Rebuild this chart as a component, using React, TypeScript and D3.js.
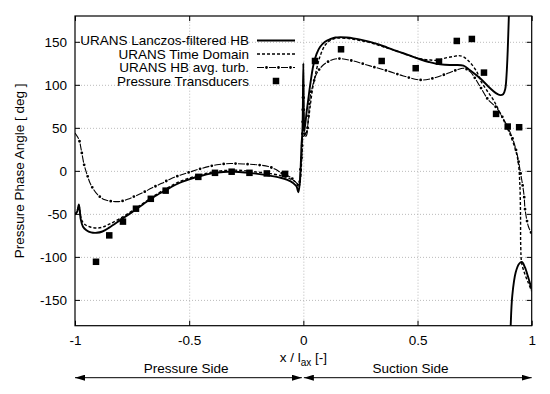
import { useRef, useEffect } from 'react';
import * as d3 from 'd3';

type Pt = [number, number];

// URANS Lanczos-filtered HB (NaN = wrap from +180 to -180)
const lanczosHB: Pt[] = [
  [-1, -51], [-0.99, -47], [-0.983, -39], [-0.975, -56], [-0.965, -65], [-0.95, -69], [-0.93, -71.5],
  [-0.905, -72], [-0.88, -70.5], [-0.85, -66], [-0.8, -57], [-0.75, -48], [-0.7, -38.5], [-0.65, -29.5],
  [-0.6, -22], [-0.55, -15], [-0.5, -10], [-0.45, -6], [-0.4, -3], [-0.35, -1.3], [-0.3, -1],
  [-0.25, -2], [-0.2, -3.5], [-0.15, -5.5], [-0.1, -8], [-0.07, -10.5], [-0.045, -14], [-0.03, -18],
  [-0.022, -25], [-0.015, -12], [-0.008, 30], [-0.004, 47], [0.0, 125], [0.002, 60], [0.004, 46],
  [0.015, 70], [0.022, 84], [0.03, 100], [0.044, 123], [0.058, 136], [0.073, 144], [0.095, 150],
  [0.117, 153], [0.14, 155], [0.161, 155.5], [0.19, 155], [0.219, 154], [0.25, 152.5], [0.292, 150],
  [0.33, 147], [0.365, 143.6], [0.4, 140], [0.438, 136.7], [0.475, 133], [0.511, 129.7], [0.55, 126.5],
  [0.584, 124.3], [0.62, 123.3], [0.657, 123], [0.701, 122.3], [0.73, 117], [0.774, 107.6],
  [0.818, 96], [0.845, 90], [0.862, 88], [0.875, 89], [0.884, 95], [0.89, 112], [0.895, 140],
  [0.9, 180], [0.903, 200], [NaN, NaN], [0.906, -200], [0.908, -180], [0.915, -145], [0.93, -118],
  [0.945, -108], [0.957, -106], [0.97, -112], [0.985, -124], [1.0, -138],
];

// URANS Time Domain
const timeDomain: Pt[] = [
  [-1, -51], [-0.99, -46], [-0.983, -40], [-0.975, -53], [-0.965, -60], [-0.95, -63.5], [-0.93, -65.5],
  [-0.905, -66.5], [-0.88, -65.5], [-0.85, -62], [-0.8, -55], [-0.75, -46.5], [-0.7, -37.5],
  [-0.65, -28.5], [-0.6, -20.5], [-0.55, -13.5], [-0.5, -8.5], [-0.45, -4.5], [-0.4, -1.5],
  [-0.35, 0.3], [-0.3, 0.8], [-0.25, 0], [-0.2, -1.5], [-0.15, -3], [-0.1, -5.5], [-0.07, -8],
  [-0.045, -11], [-0.03, -14], [-0.02, -19], [-0.012, -8], [-0.006, 20], [0.0, 40], [0.01, 42],
  [0.02, 55], [0.03, 75], [0.04, 95], [0.058, 118], [0.073, 133], [0.095, 146], [0.117, 151.5],
  [0.14, 154], [0.161, 154.5], [0.19, 154], [0.219, 153], [0.25, 151.5], [0.292, 149], [0.33, 146],
  [0.365, 143], [0.4, 140], [0.438, 136.5], [0.475, 133], [0.511, 130.5], [0.55, 129], [0.584, 128.5],
  [0.62, 131], [0.657, 133], [0.68, 134], [0.701, 132.5], [0.73, 126], [0.76, 115], [0.774, 106],
  [0.8, 95], [0.832, 82.5], [0.862, 67], [0.891, 51], [0.92, 32], [0.94, 12], [0.948, -15],
  [0.951, -50], [0.952, -88], [0.956, -107], [0.97, -120], [0.985, -130], [1.0, -140],
];

// URANS HB avg. turb.
const hbAvgTurb: Pt[] = [
  [-1, 44], [-0.99, 40], [-0.981, 35], [-0.973, 25], [-0.96, 7], [-0.945, -6], [-0.931, -16],
  [-0.9, -28], [-0.869, -33.7], [-0.835, -35.5], [-0.803, -35.6], [-0.77, -33], [-0.734, -29],
  [-0.7, -25], [-0.664, -20], [-0.62, -14.5], [-0.584, -9.7], [-0.54, -5], [-0.504, -2],
  [-0.45, 2.5], [-0.379, 7], [-0.32, 8.5], [-0.263, 8], [-0.2, 7], [-0.153, 5], [-0.12, 1.5],
  [-0.095, -2.7], [-0.07, -5.5], [-0.051, -8.5], [-0.029, -14.3], [-0.02, -16], [-0.012, 5],
  [-0.007, 17], [-0.004, 44], [0.0, 106], [0.004, 55], [0.01, 40], [0.015, 42], [0.022, 63],
  [0.03, 86], [0.044, 102], [0.058, 113], [0.087, 123], [0.13, 129.5], [0.165, 130.4], [0.219, 127.7],
  [0.292, 122], [0.365, 116.5], [0.438, 110.3], [0.511, 105.7], [0.555, 106.8], [0.613, 111.5],
  [0.672, 117.3], [0.701, 119.3], [0.73, 115.3], [0.774, 98], [0.81, 82.5], [0.847, 73], [0.883, 57],
  [0.913, 40], [0.935, 20.5], [0.949, 1], [0.961, -18], [0.967, -30], [0.971, -45], [0.986, -65],
  [1.0, -73],
];

// Pressure Transducers
const transducers: Pt[] = [
  [-0.908, -105.7], [-0.85, -75], [-0.79, -59], [-0.733, -44], [-0.668, -32.5], [-0.603, -23],
  [-0.46, -7], [-0.387, -2.3], [-0.314, -1], [-0.236, -2.3], [-0.16, -3], [-0.08, -3.5],
  [0.051, 127.7], [0.165, 141.3], [0.343, 127.7], [0.492, 119.3], [0.594, 127], [0.672, 151],
  [0.738, 153.3], [0.791, 114.2], [0.844, 66.2], [0.895, 51.5], [0.945, 50.7],
];

const xTicks = [-1, -0.5, 0, 0.5, 1];
const yTicks = [-150, -100, -50, 0, 50, 100, 150];
const legendLabels = ['URANS Lanczos-filtered HB', 'URANS Time Domain', 'URANS HB avg. turb.', 'Pressure Transducers'];

const FONT = '"Liberation Sans", Arial, Helvetica, sans-serif';
const FS = '13.5px';

export default function App() {
  const svgRef = useRef<SVGSVGElement>(null);

  useEffect(() => {
    if (!svgRef.current) return;
    const svg = d3.select(svgRef.current);
    svg.selectAll('*').remove();

    const width = 550;
    const height = 394;
    const margin = { top: 16, right: 18.3, bottom: 68.3, left: 75 };
    const w = width - margin.left - margin.right;
    const h = height - margin.top - margin.bottom;

    const x = d3.scaleLinear().domain([-1, 1]).range([0, w]);
    const y = d3.scaleLinear().domain([-180, 180]).range([h, 0]);

    const defs = svg.append('defs');
    defs.append('clipPath').attr('id', 'plot-clip')
      .append('rect').attr('width', w).attr('height', h);
    defs.append('marker')
      .attr('id', 'arrowhead')
      .attr('viewBox', '0 0 10 6')
      .attr('refX', 10).attr('refY', 3)
      .attr('markerWidth', 10).attr('markerHeight', 6)
      .attr('markerUnits', 'userSpaceOnUse')
      .attr('orient', 'auto-start-reverse')
      .append('path').attr('d', 'M0,0L10,3L0,6Z').attr('fill', '#000');

    const g = svg.append('g').attr('transform', `translate(${margin.left},${margin.top})`);

    // Grid
    const gridStyle = (sel: d3.Selection<SVGGElement, unknown, null, undefined>) => {
      sel.select('.domain').remove();
      sel.selectAll('text').remove();
      sel.selectAll('line').attr('stroke', '#aaa').attr('stroke-width', 0.8).attr('stroke-dasharray', '1,2');
    };
    g.append('g').attr('transform', `translate(0,${h})`)
      .call(d3.axisBottom(x).tickValues(xTicks.slice(1, -1)).tickSize(-h))
      .call(gridStyle);
    g.append('g')
      .call(d3.axisLeft(y).tickValues(yTicks).tickSize(-w))
      .call(gridStyle);

    // Axes with inward ticks (all four sides)
    const axisStyle = (sel: d3.Selection<SVGGElement, unknown, null, undefined>) => {
      sel.select('.domain').remove();
      sel.selectAll('line').attr('stroke', '#000').attr('stroke-width', 1);
      sel.selectAll('text').attr('fill', '#000').style('font-size', FS).style('font-family', FONT);
    };
    g.append('g').attr('transform', `translate(0,${h})`)
      .call(d3.axisBottom(x).tickValues(xTicks).tickSize(-5).tickPadding(10).tickFormat((d) => String(d)))
      .call(axisStyle);
    g.append('g')
      .call(d3.axisTop(x).tickValues(xTicks).tickSize(-5).tickFormat(() => ''))
      .call(axisStyle);
    g.append('g')
      .call(d3.axisLeft(y).tickValues(yTicks).tickSize(-5).tickPadding(8).tickFormat((d) => String(d)))
      .call(axisStyle);
    g.append('g').attr('transform', `translate(${w},0)`)
      .call(d3.axisRight(y).tickValues(yTicks).tickSize(-5).tickFormat(() => ''))
      .call(axisStyle);

    // Frame
    g.append('rect').attr('width', w).attr('height', h).attr('fill', 'none').attr('stroke', '#000').attr('stroke-width', 1.2);

    const line = d3.line<Pt>()
      .defined((d) => !isNaN(d[0]))
      .x((d) => x(d[0]))
      .y((d) => y(d[1]))
      .curve(d3.curveCatmullRom.alpha(0.5));

    const plot = g.append('g').attr('clip-path', 'url(#plot-clip)');

    // HB avg. turb.: long dash + dots
    plot.append('path').datum(hbAvgTurb).attr('d', line)
      .attr('fill', 'none').attr('stroke', '#000').attr('stroke-width', 1.1).attr('stroke-dasharray', '7,5');
    plot.append('path').datum(hbAvgTurb).attr('d', line)
      .attr('fill', 'none').attr('stroke', '#000').attr('stroke-width', 2.8)
      .attr('stroke-linecap', 'round').attr('stroke-dasharray', '0,12').attr('stroke-dashoffset', -9.5);

    // Time domain: short dashes
    plot.append('path').datum(timeDomain).attr('d', line)
      .attr('fill', 'none').attr('stroke', '#000').attr('stroke-width', 1.4).attr('stroke-dasharray', '3,2');

    // Lanczos-filtered HB: solid
    plot.append('path').datum(lanczosHB).attr('d', line)
      .attr('fill', 'none').attr('stroke', '#000').attr('stroke-width', 1.9);

    // Transducers
    const sq = 6.5;
    plot.selectAll('rect.pt').data(transducers).enter().append('rect')
      .attr('class', 'pt')
      .attr('x', (d) => x(d[0]) - sq / 2).attr('y', (d) => y(d[1]) - sq / 2)
      .attr('width', sq).attr('height', sq).attr('fill', '#000');

    // Legend
    const legend = g.append('g');
    const rowY = [24.5, 38, 51.5, 65];
    const textX = 174;
    const s0 = 182;
    const s1 = 220;
    legendLabels.forEach((label, i) => {
      legend.append('text')
        .attr('x', textX).attr('y', rowY[i])
        .attr('text-anchor', 'end').attr('dominant-baseline', 'central')
        .style('font-size', FS).style('font-family', FONT)
        .text(label);
    });
    legend.append('line').attr('x1', s0).attr('x2', s1).attr('y1', rowY[0]).attr('y2', rowY[0])
      .attr('stroke', '#000').attr('stroke-width', 1.9);
    legend.append('line').attr('x1', s0).attr('x2', s1).attr('y1', rowY[1]).attr('y2', rowY[1])
      .attr('stroke', '#000').attr('stroke-width', 1.4).attr('stroke-dasharray', '3,2');
    legend.append('line').attr('x1', s0).attr('x2', s1).attr('y1', rowY[2]).attr('y2', rowY[2])
      .attr('stroke', '#000').attr('stroke-width', 1.1).attr('stroke-dasharray', '7,5');
    legend.append('line').attr('x1', s0).attr('x2', s1).attr('y1', rowY[2]).attr('y2', rowY[2])
      .attr('stroke', '#000').attr('stroke-width', 2.8).attr('stroke-linecap', 'round')
      .attr('stroke-dasharray', '0,12').attr('stroke-dashoffset', -9.5);
    legend.append('rect').attr('x', (s0 + s1) / 2 - sq / 2).attr('y', rowY[3] - sq / 2)
      .attr('width', sq).attr('height', sq).attr('fill', '#000');

    // Y label
    svg.append('text')
      .attr('transform', `translate(19,${margin.top + y(0)}) rotate(-90)`)
      .attr('text-anchor', 'middle').attr('dominant-baseline', 'central')
      .style('font-size', FS).style('font-family', FONT)
      .text('Pressure Phase Angle [ deg ]');

    // X label
    const xl = svg.append('text')
      .attr('x', margin.left + x(0)).attr('y', 362)
      .attr('text-anchor', 'middle')
      .style('font-size', FS).style('font-family', FONT);
    xl.append('tspan').text('x / l');
    xl.append('tspan').attr('dy', 4).style('font-size', '10px').text('ax');
    xl.append('tspan').attr('dy', -4).text(' [-]');

    // Side labels and arrows
    const arrowY = 377.7;
    const sides = [
      { label: 'Pressure Side', x0: x(-1), x1: x(0) - 1.5, cx: (x(-1) + x(0)) / 2 - 3 },
      { label: 'Suction Side', x0: x(0) + 0.5, x1: x(1), cx: (x(0) + x(1)) / 2 - 7 },
    ];
    sides.forEach((s) => {
      svg.append('text')
        .attr('x', margin.left + s.cx).attr('y', 373)
        .attr('text-anchor', 'middle')
        .style('font-size', FS).style('font-family', FONT)
        .text(s.label);
      svg.append('line')
        .attr('x1', margin.left + s.x0).attr('x2', margin.left + s.x1)
        .attr('y1', arrowY).attr('y2', arrowY)
        .attr('stroke', '#000').attr('stroke-width', 1)
        .attr('marker-start', 'url(#arrowhead)').attr('marker-end', 'url(#arrowhead)');
    });
  }, []);

  return (
    <svg
      ref={svgRef}
      width={550}
      height={394}
      style={{ position: 'absolute', left: 0, top: 0, background: '#fff' }}
    />
  );
}
